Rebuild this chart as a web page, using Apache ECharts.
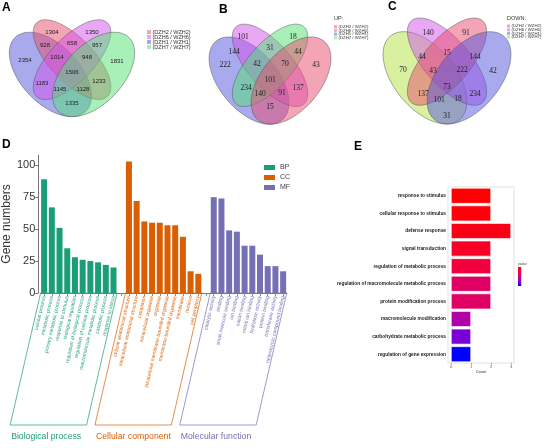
<!DOCTYPE html>
<html><head><meta charset="utf-8">
<script src="https://cdn.jsdelivr.net/npm/echarts@6/dist/echarts.min.js"></script>
<style>html,body{margin:0;padding:0;background:#fff}#c{width:550px;height:448px}</style>
</head><body><div id="c"></div>
<script>
// ---------- Venn data (region counts) ----------
const vennSetLabels = ['(DZH2 / WZH2)', '(DZH6 / WZH6)', '(DZH1 / WZH1)', '(DZH7 / WZH7)'];
const vennACounts = [1304, 1350, 928, 658, 957, 2354, 1014, 948, 1831, 1506, 1183, 1233, 1145, 1128, 1335];
const vennBCounts = [101, 18, 144, 31, 44, 222, 42, 70, 43, 101, 234, 137, 140, 91, 15];
const vennCCounts = [140, 91, 44, 15, 144, 70, 43, 222, 42, 73, 137, 101, 18, 234, 31];

// ---------- GO classification (panel D) ----------
const bpTerms = ['cellular process', 'metabolic process', 'primary metabolic process', 'response to stimulus', 'biological regulation', 'regulation of biological process', 'regulation of cellular process', 'macromolecule metabolic process', 'catabolic process', 'response to stress'];
const bpCounts = [89, 67, 51, 35, 28, 26, 25, 24, 22, 20];
const ccTerms = ['cellular anatomical structure', 'intracellular anatomical structure', 'cytoplasm', 'intracellular organelle', 'organelle', 'intracellular membrane-bounded organelle', 'membrane-bounded organelle', 'membrane', 'nucleus', 'cell periphery'];
const ccCounts = [103, 72, 56, 55, 55, 53, 53, 44, 17, 15];
const mfTerms = ['catalytic activity', 'binding', 'small molecule binding', 'ion binding', 'cation binding', 'metal ion binding', 'hydrolase activity', 'protein binding', 'transferase activity', 'heterocyclic compound binding'];
const mfCounts = [75, 74, 49, 48, 37, 37, 30, 21, 21, 17];
const dTicks = [0, 25, 50, 75, 100];

// ---------- Enrichment (panel E) ----------
const eTerms = ['response to stimulus', 'cellular response to stimulus', 'defense response', 'signal transduction', 'regulation of metabolic process', 'regulation of macromolecule metabolic process', 'protein modification process', 'macromolecule modification', 'carbohydrate metabolic process', 'regulation of gene expression'];
const eCounts = [2, 2, 3, 2, 2, 2, 2, 1, 1, 1];
const ePvalues = [0.0105, 0.0102, 0.0098, 0.0093, 0.0086, 0.0069, 0.0069, 0.0048, 0.0029, 0.0010];
const eTicks = [0, 1, 2, 3];

// ---------- layout (positions only) ----------
const vennALabelPos = [[52,32],[92,32],[45,45],[72,43],[97,45],[25,60],[57,57],[87,57],[117,61],[72,72],[42,83],[99,81],[60,89],[83,89],[72,103]];
const vennBLabelPos = [[243,37],[293,37],[234,52],[270,48],[298,52],[225,65],[257,64],[285,64],[316,65],[270,80],[246,88],[298,88],[260,94],[282,93],[270,107]];
const vennCLabelPos = [[428,33],[466,33],[422,57],[447,53],[475,57],[403,70],[433,71],[462,70],[493,71],[447,87],[423,94],[439,100],[458,99],[475,94],[447,116]];

const COL = {
  red: 'rgba(231,75,107,0.5)', purple: 'rgba(209,81,235,0.5)',
  blue: 'rgba(83,83,221,0.5)', green: 'rgba(81,225,113,0.5)', ygreen: 'rgba(177,225,65,0.5)'
};
const GO_COL = ['#1b9e77', '#d95f02', '#7570b3'];
const P_COLORS = ['#0000ff', '#7a00d8', '#b000a8', '#dc0068', '#f0003c', '#ff0000'];

function ellipsePts(cx, cyU, sx, sy, ux, uy, a, b, angDeg) {
  const th = angDeg * Math.PI / 180, pts = [];
  for (let i = 0; i < 90; i++) {
    const t = i / 90 * 2 * Math.PI;
    const x = ux + a * Math.cos(t) * Math.cos(th) - b * Math.sin(t) * Math.sin(th);
    const y = uy + a * Math.cos(t) * Math.sin(th) + b * Math.sin(t) * Math.cos(th);
    pts.push([cx + (x - 0.5) * sx, cyU - (y - 0.5) * sy]);
  }
  return pts;
}
// order: outer-left, inner-left, inner-right, outer-right
const SHAPES = [[0.35,0.47,0.35,0.20,-45],[0.5,0.57,0.35,0.15,-45],[0.5,0.57,0.35,0.15,45],[0.65,0.47,0.35,0.20,45]];

function venn(cx, cyU, sx, sy, fills, counts, pos, font, fs) {
  const els = [];
  SHAPES.forEach((s, i) => {
    els.push({ type: 'polygon', silent: true, z: 1, shape: { points: ellipsePts(cx, cyU, sx, sy, s[0], s[1], s[2], s[3], s[4]) },
      style: { fill: fills[i], stroke: '#555', lineWidth: 0.5 } });
  });
  counts.forEach((v, i) => {
    els.push({ type: 'text', z: 5, x: pos[i][0], y: pos[i][1], silent: true,
      style: { text: String(v), fontSize: fs, fontFamily: font, fill: '#222', align: 'center', verticalAlign: 'middle' } });
  });
  return els;
}
function vennLegend(x, y0, dy, sq, fs, colors, title) {
  const els = [];
  if (title) els.push({ type: 'text', x: x, y: y0 - 8, style: { text: title, fontSize: 5.5, fontFamily: 'Liberation Sans', fill: '#333', verticalAlign: 'middle' } });
  vennSetLabels.forEach((t, i) => {
    els.push({ type: 'rect', shape: { x: x, y: y0 + i * dy - sq / 2, width: sq, height: sq }, style: { fill: colors[i] } });
    els.push({ type: 'text', x: x + sq + 1.5, y: y0 + i * dy, style: { text: t, fontSize: fs, fontFamily: 'Liberation Sans', fill: '#333', verticalAlign: 'middle' } });
  });
  return els;
}
function letter(t, x, y) {
  return { type: 'text', x: x, y: y, z: 10, style: { text: t, fontSize: 12, fontWeight: 'bold', fontFamily: 'Liberation Sans', fill: '#000' } };
}

const categories = [...bpTerms, '', ...ccTerms, ' ', ...mfTerms];
const nil = n => new Array(n).fill(null);
const bpData = [...bpCounts, ...nil(22)];
const ccData = [...nil(11), ...ccCounts, ...nil(11)];
const mfData = [...nil(22), ...mfCounts];
function groupOf(i) { return i < 10 ? 0 : (i < 21 ? 1 : 2); }

const chart = echarts.init(document.getElementById('c'), null, { renderer: 'canvas' });

const option = {
  animation: false,
  backgroundColor: '#fff',
  legend: {
    data: ['BP', 'CC', 'MF'], orient: 'vertical', left: 259, top: 159, itemWidth: 11, itemHeight: 5, itemGap: 3,
    textStyle: { fontSize: 7, color: '#444', fontFamily: 'Liberation Sans' }, icon: 'rect'
  },
  visualMap: {
    type: 'continuous', show: false, seriesIndex: 3, dimension: 2, min: 0.001, max: 0.0105,
    inRange: { color: P_COLORS }
  },
  grid: [
    { left: 38, right: 263, top: 155, bottom: 155 },
    { left: 448, top: 187, width: 66, height: 176, show: true, borderColor: '#e2e2e2', borderWidth: 1, backgroundColor: '#fff' }
  ],
  xAxis: [
    { gridIndex: 0, type: 'category', data: categories,
      axisLine: { lineStyle: { color: '#777', width: 1 } },
      axisTick: { show: true, alignWithLabel: true, interval: 0, length: 3, lineStyle: { color: '#888' } },
      axisLabel: { interval: 0, rotate: 77, fontSize: 5, margin: 3, fontFamily: 'Liberation Sans',
        color: (v, i) => GO_COL[groupOf(i)] } },
    { gridIndex: 1, type: 'value', min: -0.15, max: 3.15,
      axisLine: { show: false }, splitLine: { show: false },
      axisTick: { show: true, length: 1.5, customValues: eTicks, lineStyle: { color: '#999' } },
      axisLabel: { customValues: eTicks, fontSize: 4, color: '#555', margin: 2 },
      name: 'Count', nameLocation: 'middle', nameGap: 7, nameTextStyle: { fontSize: 4, color: '#333' } }
  ],
  yAxis: [
    { gridIndex: 0, type: 'value', min: 0, max: 108, offset: 2,
      axisLine: { show: true, lineStyle: { color: '#777', width: 1 } },
      axisTick: { show: true, length: 3, customValues: dTicks, lineStyle: { color: '#777' } },
      axisLabel: { customValues: dTicks, fontSize: 11, color: '#333', margin: 3, fontFamily: 'Liberation Sans' },
      splitLine: { show: false },
      name: 'Gene numbers', nameLocation: 'middle', nameGap: 17, nameTextStyle: { fontSize: 12, color: '#333', fontFamily: 'Liberation Sans' } },
    { gridIndex: 1, type: 'category', data: eTerms, inverse: true,
      axisLine: { show: false }, axisTick: { show: false },
      axisLabel: { fontSize: 4.8, fontWeight: 'bold', color: '#222', margin: 2, fontFamily: 'Liberation Sans' } }
  ],
  series: [
    { name: 'BP', type: 'bar', xAxisIndex: 0, yAxisIndex: 0, data: bpData, barWidth: 6, barGap: '-100%', itemStyle: { color: GO_COL[0] } },
    { name: 'CC', type: 'bar', xAxisIndex: 0, yAxisIndex: 0, data: ccData, barWidth: 6, barGap: '-100%', itemStyle: { color: GO_COL[1] } },
    { name: 'MF', type: 'bar', xAxisIndex: 0, yAxisIndex: 0, data: mfData, barWidth: 6, barGap: '-100%', itemStyle: { color: GO_COL[2] } },
    { name: 'enrich', type: 'bar', xAxisIndex: 1, yAxisIndex: 1, barCategoryGap: '11%',
      data: eTerms.map((t, i) => [eCounts[i], t, ePvalues[i]]), encode: { x: 0, y: 1 },
      itemStyle: { borderColor: '#fff', borderWidth: 0.6 } }
  ]
};
chart.setOption(option);

// decorations: Venn diagrams, legends, group boxes, colour bar
let g = [];
g = g.concat(venn(72, 70, 144, 148, [COL.blue, COL.red, COL.purple, COL.green], vennACounts, vennALabelPos, 'Liberation Sans', 6));
g = g.concat(venn(270, 76, 140, 153, [COL.blue, COL.purple, COL.green, COL.red], vennBCounts, vennBLabelPos, 'Liberation Serif', 7.5));
g = g.concat(venn(447, 73, 147, 162, [COL.ygreen, COL.purple, COL.red, COL.blue], vennCCounts, vennCLabelPos, 'Liberation Serif', 7.5));
const legCols = [COL.red, COL.purple, COL.blue, COL.green];
g = g.concat(vennLegend(147, 32, 5, 4, 5.5, legCols, null));
g = g.concat(vennLegend(334, 26.7, 3.7, 3, 4.3, legCols, 'UP:'));
g = g.concat(vennLegend(507, 26, 3.7, 3, 4.3, legCols, 'DOWN:'));
g.push(letter('A', 2, 2), letter('B', 219, 4), letter('C', 388, 1), letter('D', 2, 139), letter('E', 354, 141));

// colour bar legend for panel E
const stops = P_COLORS.slice().reverse().map((c, i, arr) => ({ offset: i / (arr.length - 1), color: c }));
g.push({ type: 'rect', shape: { x: 518, y: 267, width: 3.2, height: 19 },
  style: { fill: new echarts.graphic.LinearGradient(0, 0, 0, 1, stops) } });
g.push({ type: 'text', x: 518, y: 264, style: { text: 'pvalue', fontSize: 3, fill: '#444', verticalAlign: 'middle' } });

// group boxes slanted parallel to labels
const slant = Math.tan((90 - 77) * Math.PI / 180);
const yTop = chart.convertToPixel({ gridIndex: 0 }, [0, 0])[1];
const yBot = 425;
const groupNames = ['Biological process', 'Cellular component', 'Molecular function'];
[[0, 9], [11, 20], [22, 31]].forEach((r, k) => {
  const x0 = chart.convertToPixel({ xAxisIndex: 0 }, r[0]) - 3.5;
  const x1 = chart.convertToPixel({ xAxisIndex: 0 }, r[1]) + 3.5;
  const dx = (yBot - yTop) * slant;
  g.push({ type: 'polygon', silent: true, shape: { points: [[x0, yTop], [x1, yTop], [x1 - dx, yBot], [x0 - dx, yBot]] },
    style: { fill: 'none', stroke: GO_COL[k], lineWidth: 0.7 } });
  g.push({ type: 'text', x: x0 - dx + 1, y: 437, style: { text: groupNames[k], fontSize: 8.7, fill: GO_COL[k], fontFamily: 'Liberation Sans', verticalAlign: 'middle' } });
});
chart.setOption({ graphic: { elements: g } });
</script></body></html>
